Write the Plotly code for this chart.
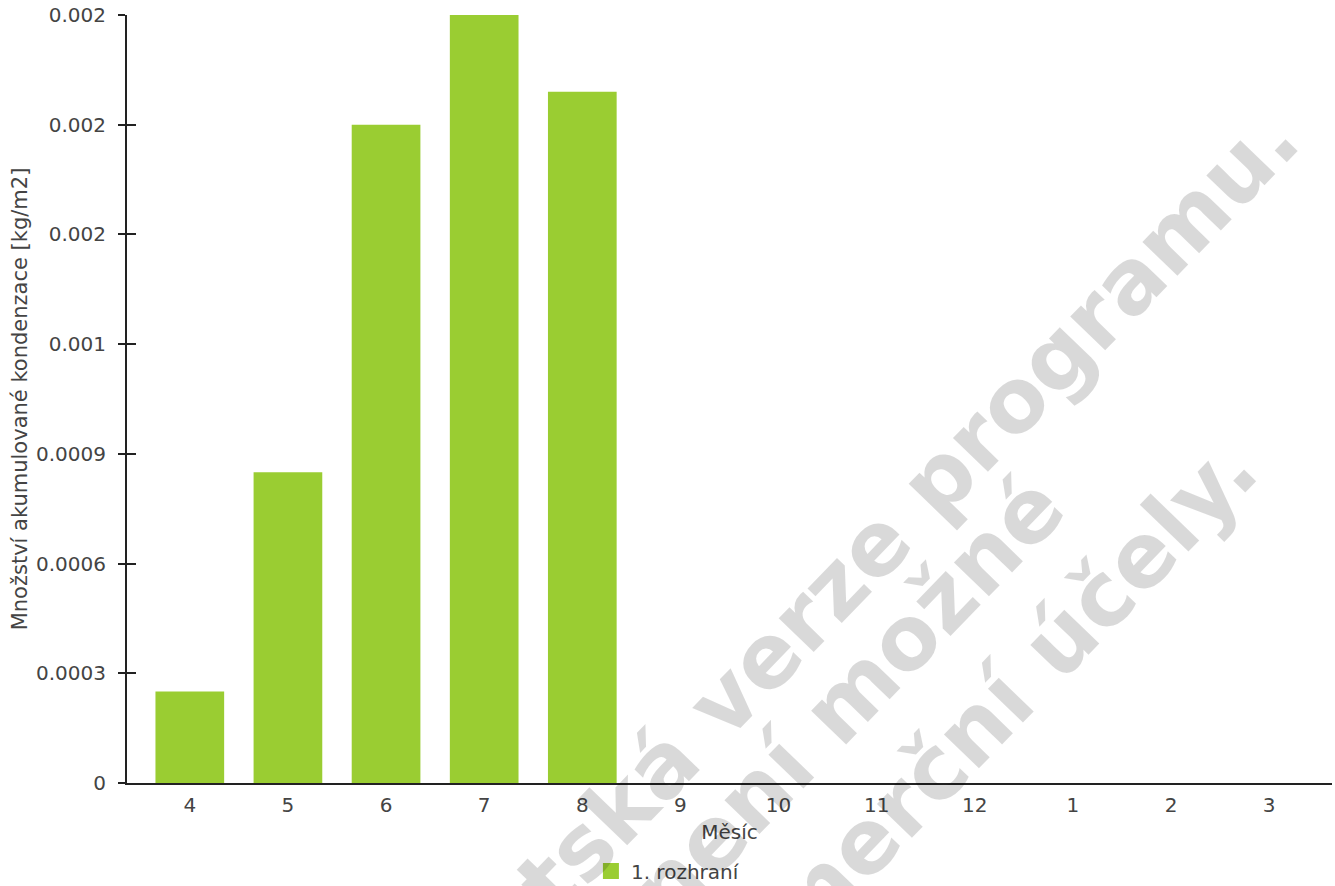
import plotly.graph_objects as go

# months (Apr..Mar) and accumulated condensate per month [kg/m2]
months = ["4", "5", "6", "7", "8", "9", "10", "11", "12", "1", "2", "3"]
condensate = [0.00025, 0.00085, 0.0018, 0.0021, 0.00189, 0, 0, 0, 0, 0, 0, 0]

ytick_vals = [0, 0.0003, 0.0006, 0.0009, 0.0012, 0.0015, 0.0018, 0.0021]
ytick_text = ["0", "0.0003", "0.0006", "0.0009", "0.001", "0.002", "0.002", "0.002"]

watermark_lines = ["Studentská verze programu.", "Použití není možné", "pro komerční účely."]

FONT = "DejaVu Sans, Verdana, sans-serif"
GREEN = "#9acd32"
AXIS = "#222222"
TXT = "#444444"
FS = 20

fig = go.Figure()
fig.add_trace(go.Bar(
    x=months,
    y=condensate,
    name="1. rozhraní",
    marker=dict(color=GREEN, line=dict(width=0)),
    showlegend=False,
))
# legend entry only (bigger square than the bar legend glyph)
fig.add_trace(go.Scatter(
    x=[None], y=[None], mode="markers", name="1. rozhraní",
    marker=dict(symbol="square", size=16, color=GREEN),
))

fig.update_layout(
    width=1335,
    height=886,
    margin=dict(l=127, r=3, t=15, b=103),
    paper_bgcolor="white",
    plot_bgcolor="white",
    bargap=0.3,
    font=dict(family=FONT, size=FS, color=TXT),
    showlegend=True,
    legend=dict(
        orientation="h",
        xref="paper", x=0.385, xanchor="left",
        yref="container", y=0.0169, yanchor="middle",
        font=dict(size=FS, color=TXT),
        itemwidth=30,
    ),
)

fig.update_xaxes(
    type="category",
    range=[-0.64, 11.64],
    automargin=False,
    showline=True, linecolor=AXIS, linewidth=2,
    showgrid=False, zeroline=False,
    ticks="outside", ticklen=3, tickcolor="rgba(0,0,0,0)",
    tickfont=dict(size=FS, color=TXT),
    title=dict(text="Měsíc", font=dict(size=FS, color=TXT), standoff=9),
)

fig.update_yaxes(
    range=[0, 0.0021],
    automargin=False,
    tickmode="array", tickvals=ytick_vals, ticktext=ytick_text,
    showline=True, linecolor=AXIS, linewidth=2,
    showgrid=False, zeroline=False,
    ticks="outside", ticklen=7, tickwidth=2, tickcolor=AXIS,
    ticklabelstandoff=8, ticklabeloverflow="allow",
    tickfont=dict(size=FS, color=TXT),
    title=dict(text="Množství akumulované kondenzace [kg/m2]",
               font=dict(size=21, color=TXT), standoff=3),
)

# inner half of the crossing tick marks
fig.update_layout(yaxis2=dict(
    overlaying="y", anchor="x", side="left", automargin=False,
    range=[0, 0.0021], tickmode="array", tickvals=ytick_vals,
    showticklabels=False, showline=False, showgrid=False, zeroline=False,
    ticks="inside", ticklen=9, tickwidth=2, tickcolor=AXIS,
))
fig.add_trace(go.Scatter(x=[months[0]], y=[0], yaxis="y2", mode="markers",
                         marker=dict(opacity=0), showlegend=False, hoverinfo="skip"))

# semi-transparent diagonal watermark (positions given in window pixels)
def px(x, y):
    return (x - 127) / 1205, (783 - y) / 768

wm_ends = [(1322, 84), (1088, 452), (1280, 414)]
for line, (ex, ey) in zip(watermark_lines, wm_ends):
    ax, ay = px(ex, ey)
    fig.add_annotation(
        text="<b>" + line + "</b>",
        xref="paper", yref="paper", x=ax, y=ay,
        xanchor="right", yanchor="top",
        textangle=-46, showarrow=False,
        font=dict(family=FONT, size=89, color="rgba(0,0,0,0.15)"),
    )

# drop the default 8px body margin so the figure fills the window
fig.write_html("out.html", config={"displayModeBar": False},
               post_script="document.body.style.margin = '0px';")
